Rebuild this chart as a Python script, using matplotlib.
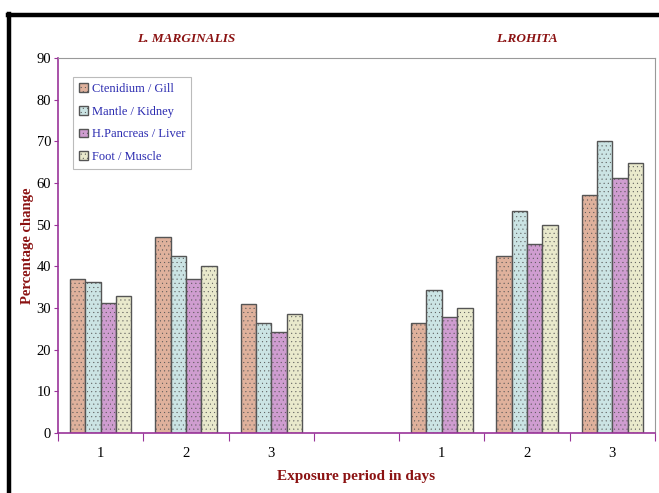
import numpy as np
import matplotlib.pyplot as plt
from matplotlib.lines import Line2D

days = ["1", "2", "3"]
species = ["L. MARGINALIS", "L.ROHITA"]
tissues = ["Ctenidium / Gill", "Mantle / Kidney", "H.Pancreas / Liver", "Foot / Muscle"]

# percentage change per tissue, days 1-3
marginalis = [
    [37.0, 47.1, 30.9],
    [36.2, 42.5, 26.3],
    [31.2, 37.0, 24.3],
    [32.9, 40.1, 28.6],
]
rohita = [
    [26.3, 42.5, 57.2],
    [34.3, 53.4, 70.2],
    [27.9, 45.3, 61.1],
    [29.9, 49.9, 64.7],
]

colors = ["#dfb19c", "#cbe4e4", "#cf9dd0", "#e9e9cc"]
serif = "Liberation Serif"
red = "#8b1212"
purple = "#993399"

plt.rcParams["hatch.color"] = "#f4f4f4"
plt.rcParams["hatch.linewidth"] = 0.25

fig = plt.figure(figsize=(6.59, 4.93), dpi=100)
ax = fig.add_axes([0.088, 0.1217, 0.906, 0.7606])

# slots 0-2 for one species, slot 3 left blank, 4-6 for the other
slots = {0: np.arange(3), 1: np.arange(3) + 4}
bw = 0.18
start = 0.14
for s, data in enumerate([marginalis, rohita]):
    for i, vals in enumerate(data):
        x = slots[s] + start + i * bw
        ax.bar(x, vals, width=bw, align="edge", color=colors[i],
               edgecolor="#555555", linewidth=1.0, hatch="....",
               label=tissues[i] if s == 0 else None)

ax.set_xlim(0, 7)
ax.set_ylim(0, 90)
ax.set_yticks(np.arange(0, 91, 10))
ax.set_xticks(np.arange(0, 8))
ax.set_xticklabels([])
ax.set_xticks(np.concatenate([slots[0], slots[1]]) + 0.5, minor=True)
ax.set_xticklabels(days + days, minor=True)
ax.tick_params(axis="x", which="minor", length=0, pad=10)
ax.tick_params(axis="x", which="major", length=6, color=purple, direction="out")
ax.tick_params(axis="y", length=3, color=purple, direction="out", pad=2)
for lab in ax.get_xticklabels(minor=True) + ax.get_yticklabels():
    lab.set_fontfamily(serif)
    lab.set_fontsize(10.5)

ax.spines["left"].set_color(purple)
ax.spines["bottom"].set_color(purple)
ax.spines["left"].set_linewidth(1.2)
ax.spines["bottom"].set_linewidth(1.2)
ax.spines["top"].set_color("#999999")
ax.spines["right"].set_color("#999999")

ax.set_ylabel("Percentage change", fontfamily=serif, fontsize=10.5,
              fontweight="bold", color=red, labelpad=2)
ax.set_xlabel("Exposure period in days", fontfamily=serif, fontsize=11,
              fontweight="bold", color=red, labelpad=7)

for s, name in enumerate(species):
    ax.text(slots[s].mean() + 0.5, 93.8, name, fontfamily=serif, fontsize=9.5,
            fontweight="bold", fontstyle="italic", color=red, ha="center")

leg = ax.legend(loc="upper left", bbox_to_anchor=(0.025, 0.95),
                prop={"family": serif, "size": 9}, frameon=True,
                fancybox=False, handlelength=0.7, handleheight=0.7,
                handletextpad=0.3, labelspacing=0.85, borderpad=0.5,
                borderaxespad=0.0, edgecolor="#aaaaaa")
leg.get_frame().set_linewidth(0.8)
for t in leg.get_texts():
    t.set_color("#2b2bb0")

# outer frame
fig.add_artist(Line2D([0.014, 0.014], [0.0, 0.971], color="black", lw=3.2,
                      transform=fig.transFigure))
fig.add_artist(Line2D([0.012, 1.0], [0.969, 0.969], color="black", lw=3.2,
                      transform=fig.transFigure))

fig.savefig("out.png", dpi=100)
